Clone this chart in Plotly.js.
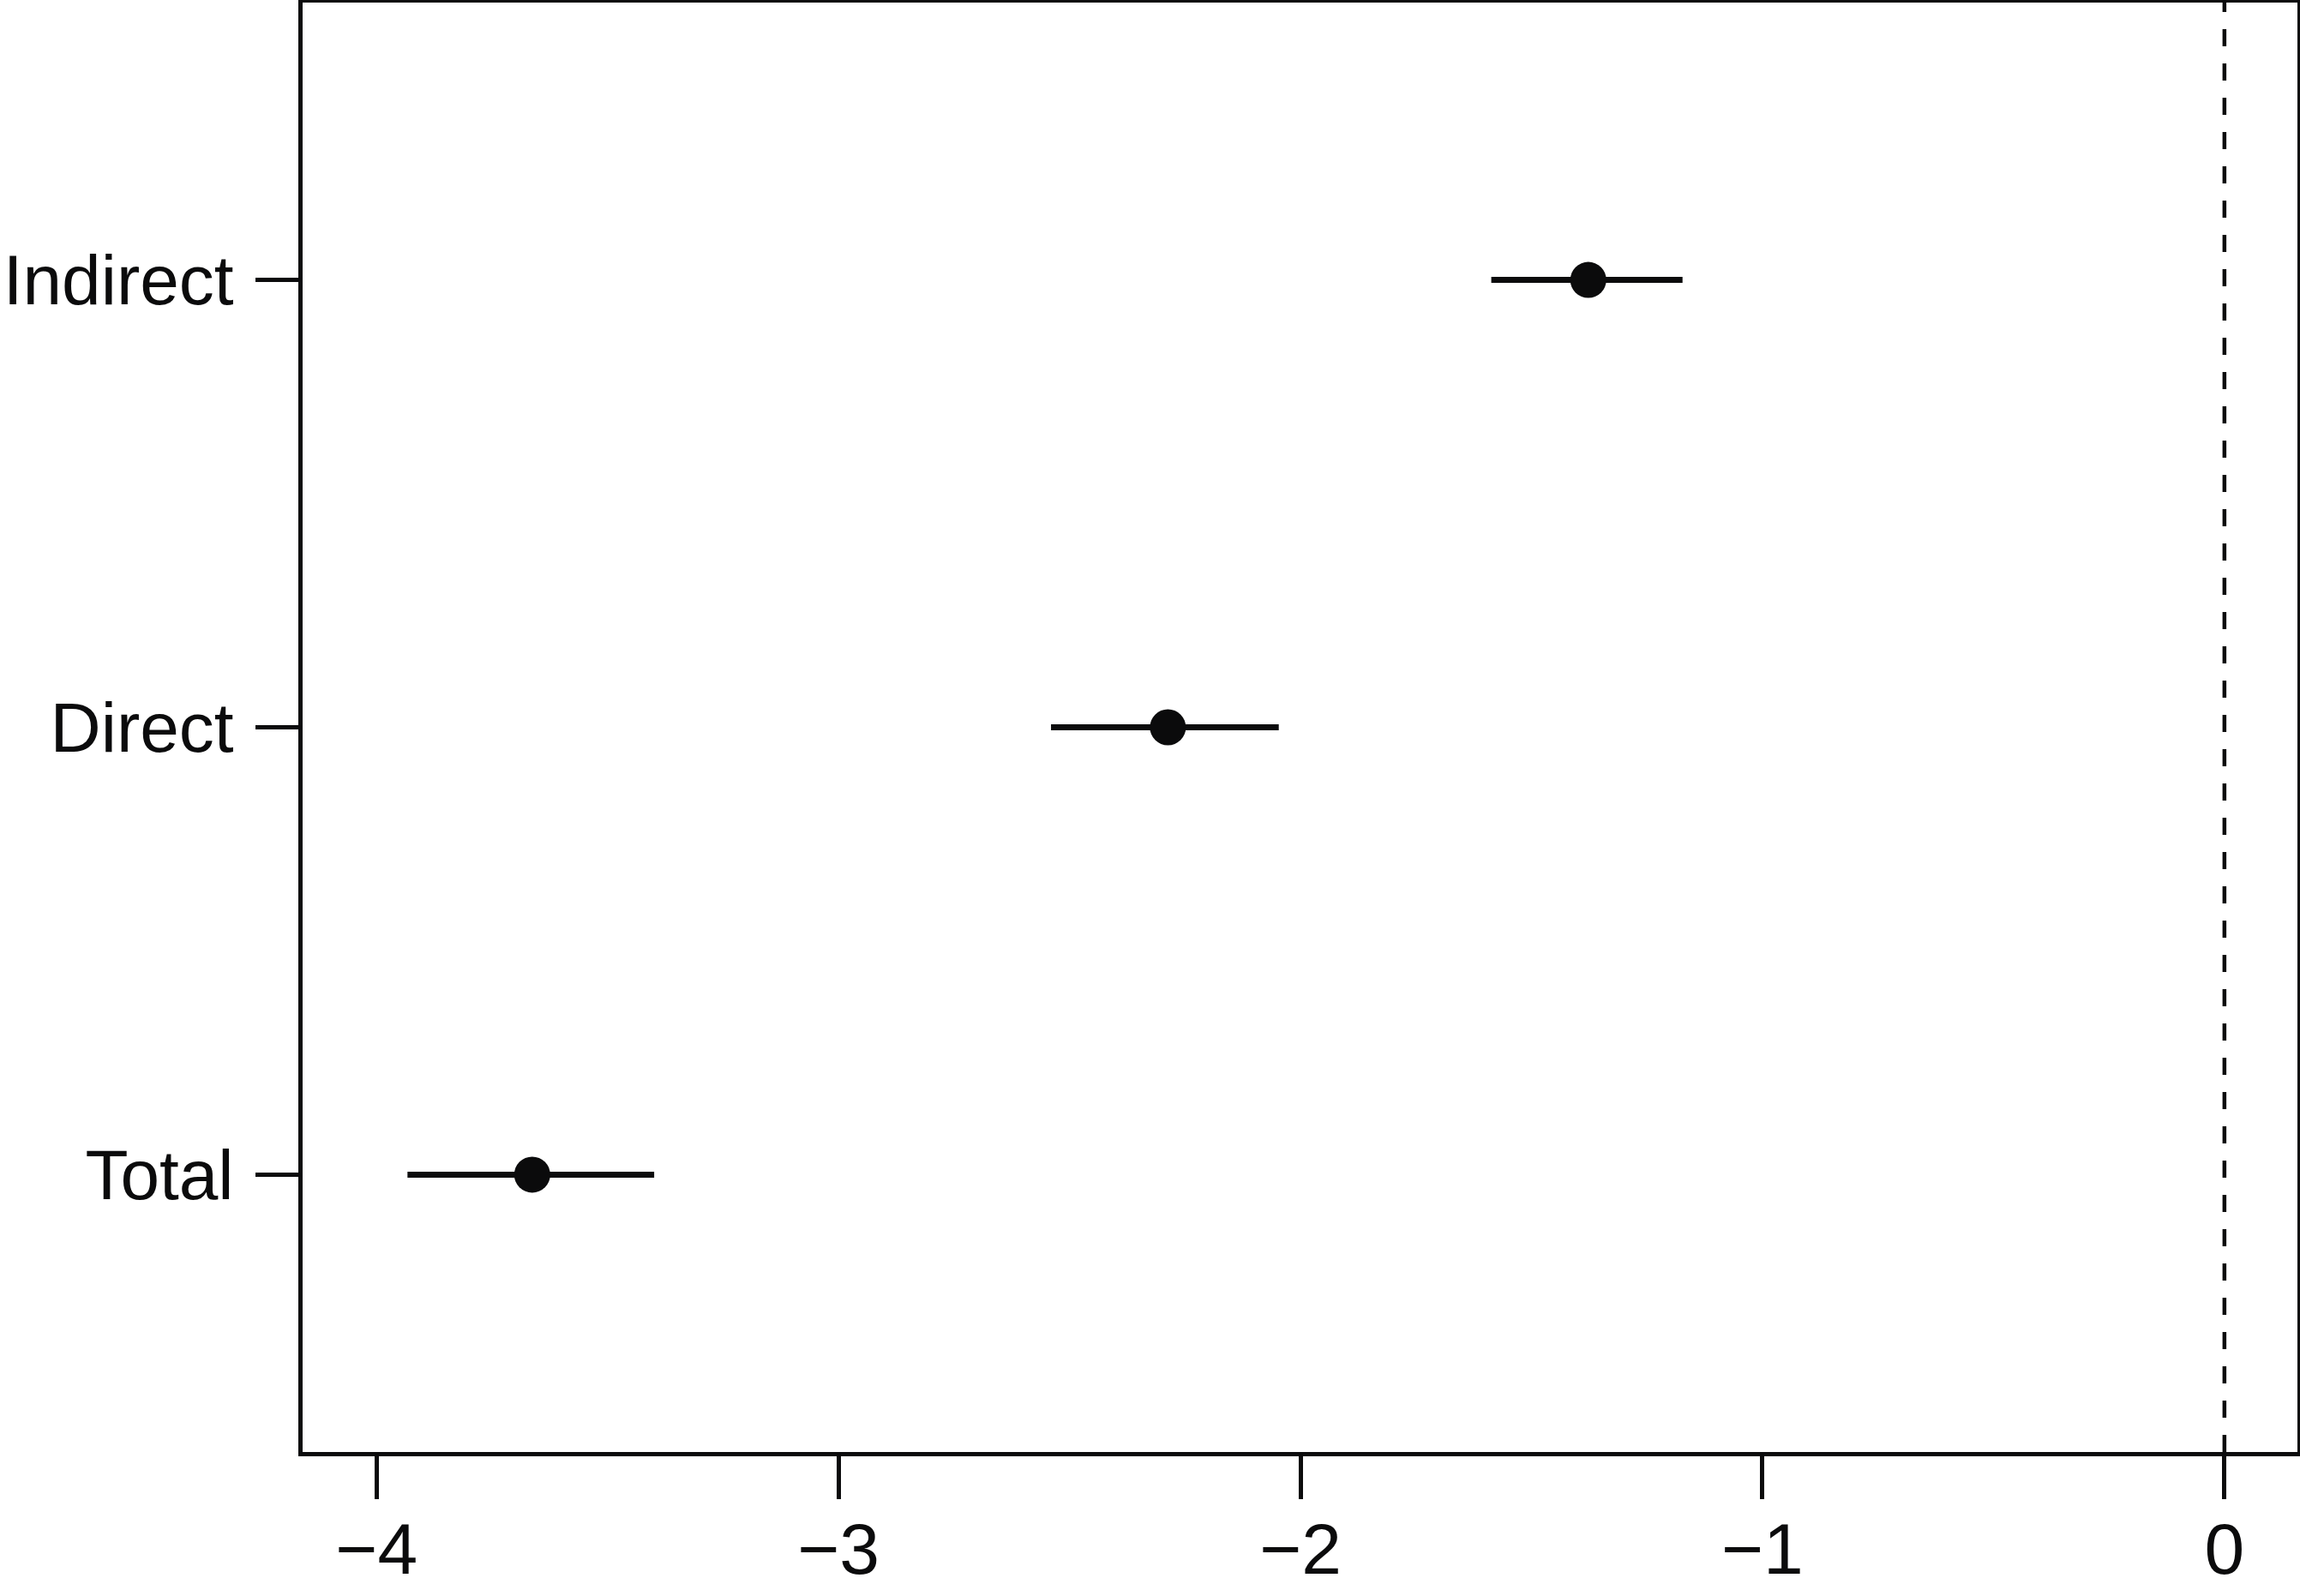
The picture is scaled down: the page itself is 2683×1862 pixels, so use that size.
<!DOCTYPE html>
<html>
<head>
<meta charset="utf-8">
<script src="https://cdn.plot.ly/plotly-3.0.1.min.js"></script>
<style>html,body{margin:0;padding:0;background:#fff;}</style>
</head>
<body>
<div id="chart" style="width:2683px;height:1862px;"></div>
<script>
const categories = ['Total', 'Direct', 'Indirect'];
const estimates = [-3.663, -2.287, -1.377];
const lowerCI = [-3.933, -2.540, -1.587];
const upperCI = [-3.399, -2.047, -1.173];
const xTickVals = [-4, -3, -2, -1, 0];

const ink = '#0b0b0c';
const font = 'Liberation Sans, Arial, Helvetica, sans-serif';

const trace = {
  type: 'scatter',
  mode: 'markers',
  x: estimates,
  y: categories,
  marker: {size: 42, color: ink, line: {width: 0}},
  error_x: {
    type: 'data',
    symmetric: false,
    array: upperCI.map((u, i) => u - estimates[i]),
    arrayminus: lowerCI.map((l, i) => estimates[i] - l),
    color: ink,
    thickness: 7,
    width: 0
  },
  showlegend: false,
  hoverinfo: 'skip'
};

const layout = {
  width: 2683,
  height: 1862,
  margin: {l: 353, r: 3, t: 3, b: 168, pad: 0},
  paper_bgcolor: '#ffffff',
  plot_bgcolor: '#ffffff',
  font: {family: font, color: ink, size: 82},
  xaxis: {
    range: [-4.160, 0.158],
    tickvals: xTickVals,
    ticktext: xTickVals.map(v => v < 0 ? '\u2212' + Math.abs(v) : String(v)),
    ticks: 'outside',
    ticklen: 50,
    tickwidth: 5,
    tickcolor: ink,
    showgrid: false,
    zeroline: false,
    showline: true,
    linewidth: 5,
    linecolor: ink,
    mirror: true,
    tickfont: {family: font, size: 84, color: ink},
    ticklabelstandoff: -14
  },
  yaxis: {
    type: 'category',
    categoryorder: 'array',
    categoryarray: categories,
    range: [-0.62, 2.62],
    ticks: 'outside',
    ticklen: 50,
    tickwidth: 5,
    tickcolor: ink,
    showgrid: false,
    zeroline: false,
    showline: true,
    linewidth: 5,
    linecolor: ink,
    mirror: true,
    tickfont: {family: font, size: 82, color: ink},
    ticklabelstandoff: 9
  },
  shapes: [{
    type: 'line',
    xref: 'x', yref: 'paper',
    x0: 0, x1: 0, y0: 0, y1: 1,
    line: {color: ink, width: 4.5, dash: '20px,20px'},
    layer: 'below'
  }]
};

Plotly.newPlot('chart', [trace], layout, {staticPlot: true, displayModeBar: false});
</script>
</body>
</html>
